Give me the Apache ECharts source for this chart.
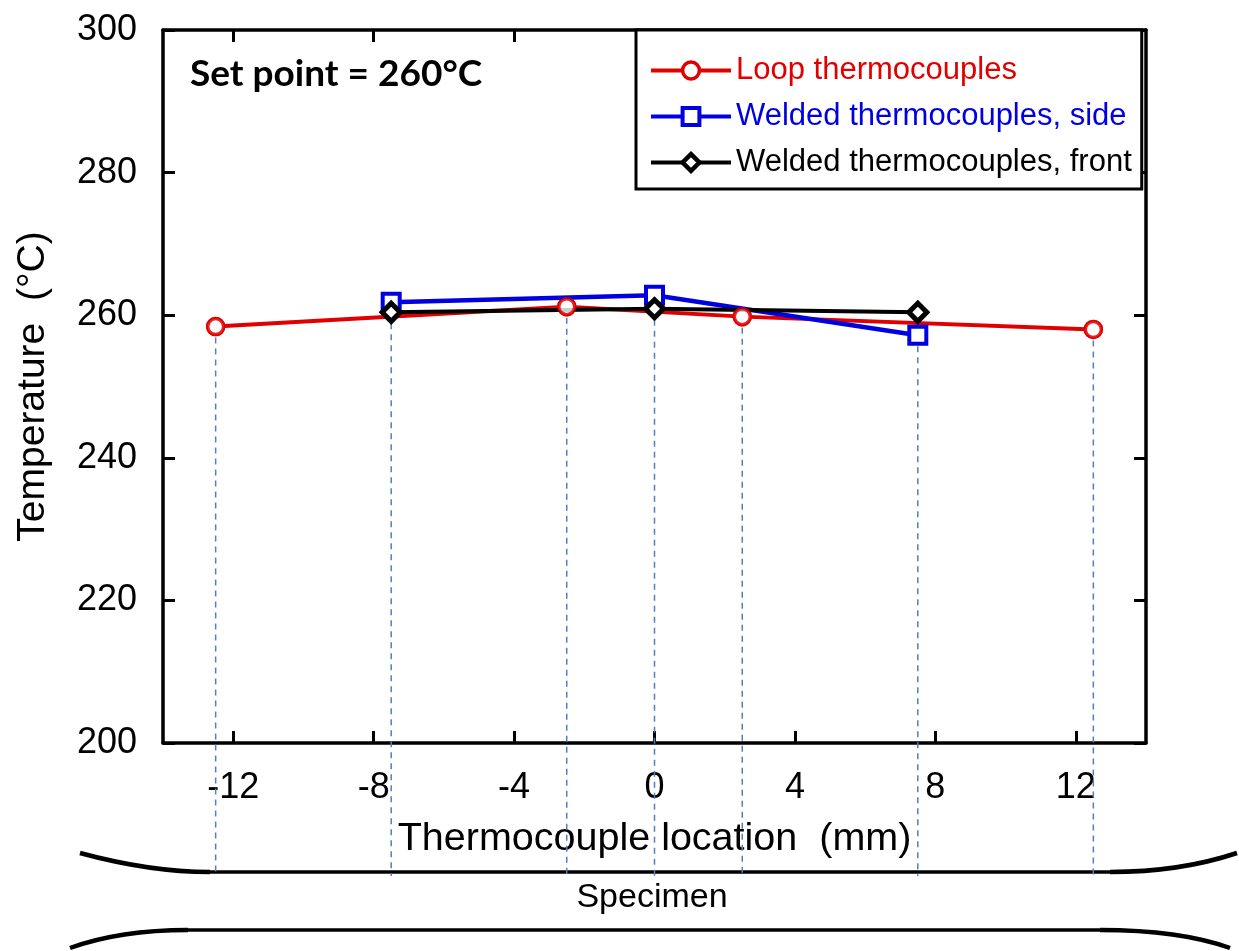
<!DOCTYPE html>
<html>
<head>
<meta charset="utf-8">
<title>Thermocouple temperatures along specimen</title>
<script src="https://cdn.jsdelivr.net/npm/echarts@6/dist/echarts.min.js"></script>
<style>
  html, body { margin: 0; padding: 0; background: #fff; }
  #chart { width: 1239px; height: 951px; }
</style>
</head>
<body>
<div id="chart"></div>
<script>
// Thermocouple positions (mm from specimen centre) and readings (°C)
const loopX = [-12.5, -2.5, 2.5, 12.5];
const loopT = [258.4, 261.2, 259.8, 258.0];

const sideX = [-7.5, 0, 7.5];
const sideT = [261.8, 262.8, 257.2];

const frontX = [-7.5, 0, 7.5];
const frontT = [260.4, 260.9, 260.4];

// Axis tick values
const xTicks = [-12, -8, -4, 0, 4, 8, 12];
const yTicks = [200, 220, 240, 260, 280, 300];

const seriesNames = ['Loop thermocouples', 'Welded thermocouples, side', 'Welded thermocouples, front'];
const RED = '#e00000', BLUE = '#0000e0', BLACK = '#000000';
const FONT = '"Liberation Sans", Arial, sans-serif';

function pairs(xs, ys) { return xs.map((x, i) => [x, ys[i]]); }

// Guide lines: one per thermocouple location, starting at the lowest reading there
const allPts = [].concat(pairs(loopX, loopT), pairs(sideX, sideT), pairs(frontX, frontT));
const guideX = Array.from(new Set(allPts.map(p => p[0]))).sort((a, b) => a - b);
const guideData = guideX.map(x => [x, Math.min.apply(null, allPts.filter(p => p[0] === x).map(p => p[1]))]);

// Specimen outline (decorative drawing under the axis)
const SPEC_TOP = 872, SPEC_BOT = 930;

const chart = echarts.init(document.getElementById('chart'), null, { renderer: 'canvas' });

const tickStyle = { show: true, inside: true, length: 12, lineStyle: { color: '#000', width: 3 } };
const lineAxis = { show: true, onZero: false, lineStyle: { color: '#000', width: 3.5 } };

chart.setOption({
  animation: false,
  backgroundColor: '#fff',
  grid: { left: 163, right: 93, top: 30, bottom: 208, containLabel: false },
  xAxis: [
    {
      type: 'value', min: -14, max: 14, position: 'bottom',
      axisLine: lineAxis,
      axisTick: Object.assign({ customValues: xTicks }, tickStyle),
      axisLabel: { customValues: xTicks, color: '#000', fontSize: 36, fontFamily: FONT, margin: 27 },
      splitLine: { show: false },
      name: 'Thermocouple location  (mm)', nameLocation: 'middle', nameGap: 76,
      nameTextStyle: { color: '#000', fontSize: 39.5, fontFamily: FONT }
    },
    {
      type: 'value', min: -14, max: 14, position: 'top',
      axisLine: lineAxis,
      axisTick: Object.assign({ customValues: xTicks }, tickStyle),
      axisLabel: { show: false },
      splitLine: { show: false }
    }
  ],
  yAxis: [
    {
      type: 'value', min: 200, max: 300, interval: 20, position: 'left',
      axisLine: lineAxis,
      axisTick: tickStyle,
      axisLabel: { color: '#000', fontSize: 36, fontFamily: FONT, margin: 26,
        customValues: yTicks },
      splitLine: { show: false },
      name: 'Temperature  (°C)', nameLocation: 'middle', nameGap: 110, nameRotate: 90,
      nameTextStyle: { color: '#000', fontSize: 39, fontFamily: FONT }
    },
    {
      type: 'value', min: 200, max: 300, interval: 20, position: 'right',
      axisLine: lineAxis,
      axisTick: tickStyle,
      axisLabel: { show: false },
      splitLine: { show: false }
    }
  ],
  legend: {
    orient: 'vertical', left: 636, top: 30,
    padding: [25, 10, 11, 13],
    itemWidth: 80, itemHeight: 21, itemGap: 15,
    borderColor: '#000', borderWidth: 3, backgroundColor: '#fff',
    textStyle: { fontSize: 31, fontFamily: FONT, lineHeight: 31 },
    selectedMode: false,
    data: [
      { name: seriesNames[0], textStyle: { color: RED },
        itemStyle: { color: '#fff', borderColor: RED, borderWidth: 3.5 }, lineStyle: { color: RED, width: 4 } },
      { name: seriesNames[1], textStyle: { color: BLUE },
        itemStyle: { color: '#fff', borderColor: BLUE, borderWidth: 4 }, lineStyle: { color: BLUE, width: 4 } },
      { name: seriesNames[2], textStyle: { color: BLACK },
        itemStyle: { color: '#fff', borderColor: BLACK, borderWidth: 4.5 }, lineStyle: { color: BLACK, width: 4 } }
    ]
  },
  graphic: [
    { type: 'text', left: 190, top: 56, z: 10,
      style: { text: 'Set point = 260°C', font: 'bold 37px Lato, "Open Sans", sans-serif', fill: '#000' } },
    { type: 'text', x: 652, y: 898,
      style: { text: 'Specimen', font: '34px ' + FONT, fill: '#000', align: 'center', verticalAlign: 'middle' } },
    // upper edge of the specimen
    { type: 'bezierCurve', shape: { x1: 80, y1: 853, cpx1: 150, cpy1: 872, x2: 210, y2: SPEC_TOP },
      style: { stroke: '#000', lineWidth: 4.5, fill: null } },
    { type: 'line', shape: { x1: 208, y1: SPEC_TOP, x2: 1112, y2: SPEC_TOP },
      style: { stroke: '#000', lineWidth: 3.5 } },
    { type: 'bezierCurve', shape: { x1: 1110, y1: SPEC_TOP, cpx1: 1180, cpy1: 872, x2: 1237, y2: 853 },
      style: { stroke: '#000', lineWidth: 4.5, fill: null } },
    // lower edge of the specimen
    { type: 'bezierCurve', shape: { x1: 70, y1: 948, cpx1: 120, cpy1: 930, x2: 188, y2: SPEC_BOT },
      style: { stroke: '#000', lineWidth: 4.5, fill: null } },
    { type: 'line', shape: { x1: 186, y1: SPEC_BOT, x2: 1102, y2: SPEC_BOT },
      style: { stroke: '#000', lineWidth: 3.5 } },
    { type: 'bezierCurve', shape: { x1: 1100, y1: SPEC_BOT, cpx1: 1180, cpy1: 930, x2: 1230, y2: 948 },
      style: { stroke: '#000', lineWidth: 4.5, fill: null } }
  ],
  series: [
    {
      name: 'guides', type: 'custom', clip: false, z: 1, silent: true,
      data: guideData,
      renderItem: function (params, api) {
        const top = api.coord([api.value(0), api.value(1)]);
        return {
          type: 'line',
          shape: { x1: top[0], y1: top[1], x2: top[0], y2: SPEC_TOP + 4 },
          style: { stroke: '#4f81bd', lineWidth: 1.5, lineDash: [6, 5] }
        };
      }
    },
    {
      name: seriesNames[0], type: 'line', z: 2,
      data: pairs(loopX, loopT),
      symbol: 'circle', symbolSize: 16,
      lineStyle: { color: RED, width: 4 },
      itemStyle: { color: '#fff', borderColor: RED, borderWidth: 3.5 }
    },
    {
      name: seriesNames[1], type: 'line', z: 3,
      data: pairs(sideX, sideT),
      symbol: 'rect', symbolSize: 17,
      lineStyle: { color: BLUE, width: 4.5 },
      itemStyle: { color: '#fff', borderColor: BLUE, borderWidth: 4 }
    },
    {
      name: seriesNames[2], type: 'line', z: 4,
      data: pairs(frontX, frontT),
      symbol: 'diamond', symbolSize: 18,
      lineStyle: { color: BLACK, width: 4 },
      itemStyle: { color: '#fff', borderColor: BLACK, borderWidth: 5 }
    },
    {
      // loop markers drawn again so they sit above the welded-thermocouple lines
      name: 'loop markers', type: 'scatter', z: 5,
      data: pairs(loopX, loopT),
      symbol: 'circle', symbolSize: 16,
      itemStyle: { color: '#fff', borderColor: RED, borderWidth: 3.5 }
    }
  ]
});
</script>
</body>
</html>
